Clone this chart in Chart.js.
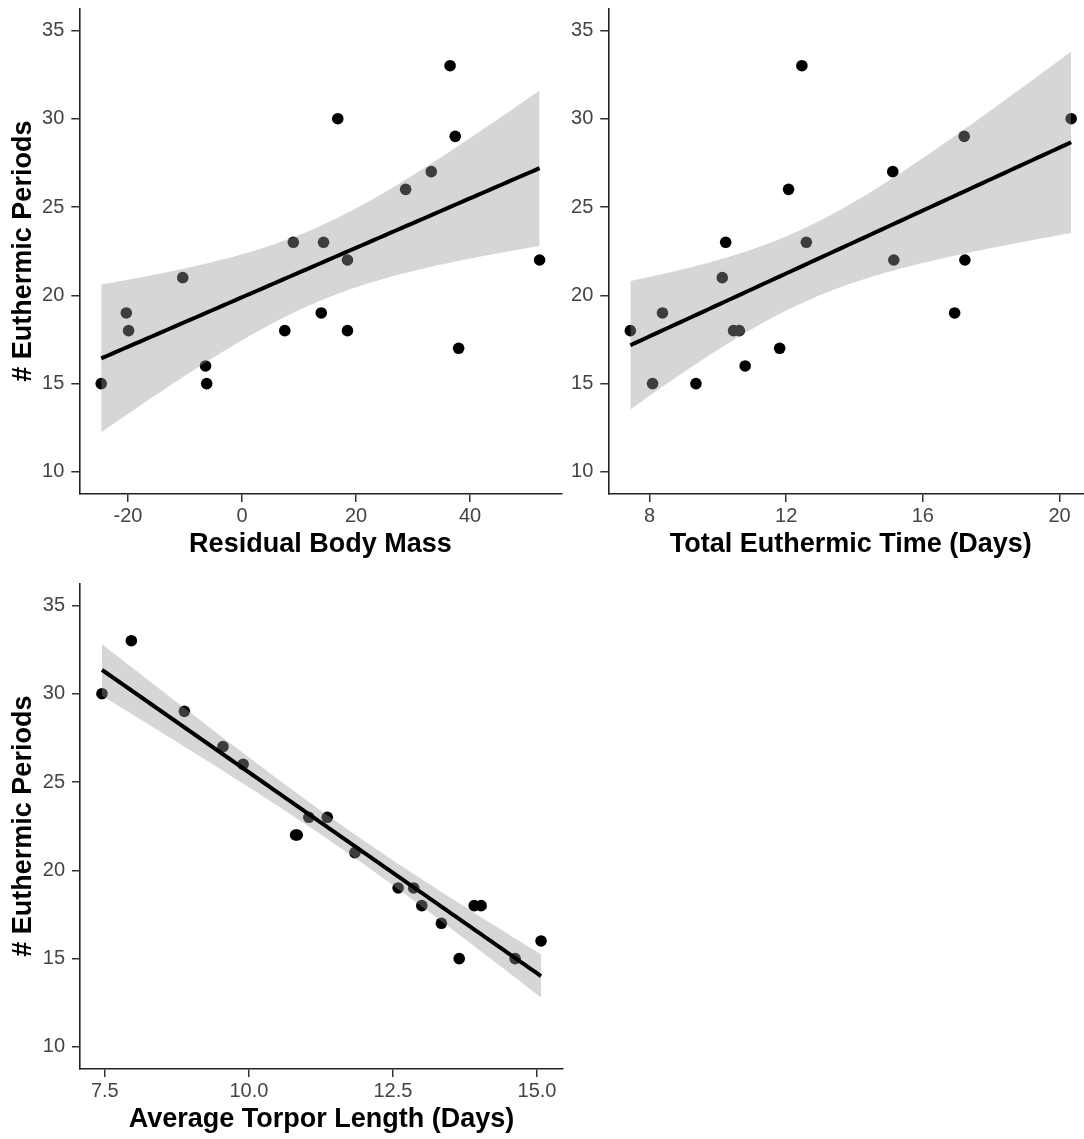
<!DOCTYPE html>
<html>
<head>
<meta charset="utf-8">
<script src="https://cdn.jsdelivr.net/npm/chart.js@4.4.0/dist/chart.umd.min.js"></script>
<style>
  html, body { margin: 0; padding: 0; background: #ffffff; }
  body { width: 1084px; height: 1139px; overflow: hidden; position: relative; }
  canvas { position: absolute; }
</style>
</head>
<body>
<canvas id="c1" width="575" height="565" style="left:0px;top:0px;"></canvas>
<canvas id="c2" width="570" height="565" style="left:540px;top:0px;"></canvas>
<canvas id="c3" width="575" height="565" style="left:0px;top:575px;"></canvas>
<script>
// ---------------- DATA ----------------
const yTicks = [10, 15, 20, 25, 30, 35];
const yTickLabels = ["10", "15", "20", "25", "30", "35"];
const yTitle = "# Euthermic Periods";

// Panel 1: Residual Body Mass
const massX = [-24.7, -20.3, -19.9, -10.4, -6.4, -6.2, 7.5, 9.0, 13.9, 14.3, 16.8, 18.5, 18.5, 28.7, 33.2, 36.5, 37.4, 38.0, 52.2];
const massY = [15, 19, 18, 21, 16, 15, 18, 23, 19, 23, 30, 22, 18, 26, 27, 33, 29, 17, 22];
const massTicks = [-20, 0, 20, 40];
const massTickLabels = ["-20", "0", "20", "40"];
const massTitle = "Residual Body Mass";

// Panel 2: Total Euthermic Time (Days)
const eutX = [7.44, 8.09, 8.38, 9.36, 10.13, 10.23, 10.46, 10.63, 10.80, 11.81, 12.07, 12.46, 12.59, 15.12, 15.15, 16.93, 17.21, 17.23, 20.34];
const eutY = [18, 15, 19, 15, 21, 23, 18, 18, 16, 17, 26, 33, 23, 27, 22, 19, 29, 22, 30];
const eutTicks = [8, 12, 16, 20];
const eutTickLabels = ["8", "12", "16", "20"];
const eutTitle = "Total Euthermic Time (Days)";

// Panel 3: Average Torpor Length (Days)
const torX = [7.45, 7.96, 8.88, 9.55, 9.90, 10.81, 10.84, 11.04, 11.36, 11.84, 12.59, 12.86, 13.00, 13.34, 13.65, 13.91, 14.03, 14.62, 15.07];
const torY = [30, 33, 29, 27, 26, 22, 22, 23, 23, 21, 19, 19, 18, 17, 15, 18, 18, 15, 16];
const torTicks = [7.5, 10.0, 12.5, 15.0];
const torTickLabels = ["7.5", "10.0", "12.5", "15.0"];
const torTitle = "Average Torpor Length (Days)";

// ---------------- STATS (linear model, 95% CI as in geom_smooth(method="lm")) ----------------
const T975_DF17 = 2.109816; // qt(0.975, 17), n = 19 points per panel
function olsFit(xs, ys) {
  const n = xs.length;
  const mx = xs.reduce((a, b) => a + b, 0) / n;
  const my = ys.reduce((a, b) => a + b, 0) / n;
  let sxx = 0, sxy = 0;
  for (let i = 0; i < n; i++) { sxx += (xs[i] - mx) ** 2; sxy += (xs[i] - mx) * (ys[i] - my); }
  const b = sxy / sxx, a = my - b * mx;
  let sse = 0;
  for (let i = 0; i < n; i++) sse += (ys[i] - a - b * xs[i]) ** 2;
  const s = Math.sqrt(sse / (n - 2));
  return {
    pred: x => a + b * x,
    se: x => s * Math.sqrt(1 / n + (x - mx) ** 2 / sxx)
  };
}

const FONT = "'Liberation Sans', Arial, Helvetica, sans-serif";

function makePanel(id, xs, ys, xTicks, xLabels, xTitle, showYTitle, geom) {
  const fit = olsFit(xs, ys);
  const xmin = Math.min(...xs), xmax = Math.max(...xs);
  const N = 80;
  const grid = [];
  for (let i = 0; i < N; i++) grid.push(xmin + (xmax - xmin) * i / (N - 1));
  const lower = grid.map(x => ({ x: x, y: fit.pred(x) - T975_DF17 * fit.se(x) }));
  const upper = grid.map(x => ({ x: x, y: fit.pred(x) + T975_DF17 * fit.se(x) }));
  const line = grid.map(x => ({ x: x, y: fit.pred(x) }));
  const pad = 0.05 * (xmax - xmin);
  const ypad = 0.05 * (yTicks[yTicks.length - 1] - yTicks[0]);

  new Chart(document.getElementById(id), {
    type: 'scatter',
    data: {
      datasets: [
        { label: 'points', data: xs.map((x, i) => ({ x: x, y: ys[i] })),
          backgroundColor: '#000000', borderColor: '#000000', borderWidth: 0,
          pointRadius: 5.8, pointHoverRadius: 5.8, order: 3 },
        { label: 'lower', type: 'line', data: lower, showLine: true,
          borderColor: 'rgba(0,0,0,0)', borderWidth: 0, pointRadius: 0, fill: false, order: 2 },
        { label: 'upper', type: 'line', data: upper, showLine: true,
          borderColor: 'rgba(0,0,0,0)', borderWidth: 0, pointRadius: 0,
          fill: '-1', backgroundColor: 'rgba(153,153,153,0.4)', order: 2 },
        { label: 'fit', type: 'line', data: line, showLine: true,
          borderColor: '#000000', borderWidth: 4, pointRadius: 0, fill: false, order: 1 }
      ]
    },
    options: {
      responsive: false,
      animation: false,
      devicePixelRatio: 1,
      layout: { padding: { top: geom.top, right: geom.right, bottom: 0, left: 0 } },
      plugins: { legend: { display: false }, tooltip: { enabled: false } },
      events: [],
      scales: {
        x: {
          type: 'linear',
          min: xmin - pad, max: xmax + pad,
          afterBuildTicks: s => { s.ticks = xTicks.map(v => ({ value: v })); },
          afterFit: s => { s.height = geom.xH; s.paddingLeft = 0; s.paddingRight = 0; s.paddingTop = 0; s.paddingBottom = 0; },
          ticks: { callback: (v, i) => xLabels[i], autoSkip: false, maxRotation: 0, minRotation: 0,
                   font: { family: FONT, size: 20 }, color: '#444444', padding: 2 },
          grid: { drawOnChartArea: false, drawTicks: true, tickLength: 8, color: '#333333', lineWidth: 1.5 },
          border: { display: true, color: '#222222', width: 1.6 },
          title: { display: true, text: xTitle, color: '#000000',
                   font: { family: FONT, size: 27, weight: 'bold' }, padding: { top: 0, bottom: geom.xTitlePad } }
        },
        y: {
          type: 'linear',
          min: yTicks[0] - ypad, max: yTicks[yTicks.length - 1] + ypad,
          afterBuildTicks: s => { s.ticks = yTicks.map(v => ({ value: v })); },
          afterFit: s => { s.width = geom.yW; s.paddingLeft = 0; s.paddingRight = 0; s.paddingTop = 0; s.paddingBottom = 0; },
          ticks: { callback: (v, i) => yTickLabels[i], autoSkip: false,
                   font: { family: FONT, size: 20 }, color: '#444444', padding: 7 },
          grid: { drawOnChartArea: false, drawTicks: true, tickLength: 8, color: '#333333', lineWidth: 1.5 },
          border: { display: true, color: '#222222', width: 1.6 },
          title: { display: showYTitle, text: yTitle, color: '#000000',
                   font: { family: FONT, size: 27, weight: 'bold' }, padding: { top: 7, bottom: 0 } }
        }
      }
    }
  });
}

makePanel('c1', massX, massY, massTicks, massTickLabels, massTitle, true,
          { top: 8.3, right: 13.5, xH: 71, yW: 79.3, xTitlePad: 3.8 });
makePanel('c2', eutX, eutY, eutTicks, eutTickLabels, eutTitle, false,
          { top: 8.3, right: 16.8, xH: 71, yW: 68.3, xTitlePad: 3.8 });
makePanel('c3', torX, torY, torTicks, torTickLabels, torTitle, true,
          { top: 8.3, right: 12, xH: 71, yW: 80, xTitlePad: 3.8 });
</script>
</body>
</html>
